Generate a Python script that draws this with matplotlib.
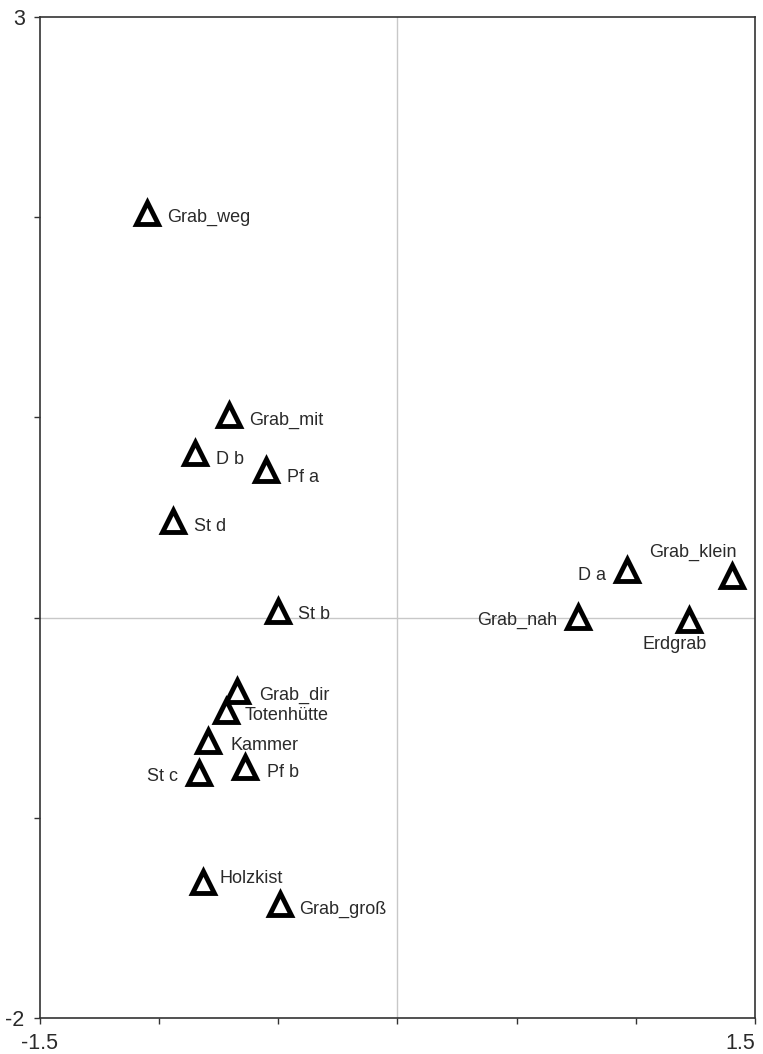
import matplotlib
matplotlib.use("Agg")
from matplotlib import pyplot as plt

# ordination scores
names = ["Grab_weg", "Grab_mit", "D b", "Pf a", "St d", "St b",
         "Grab_dir", "Totenhütte", "Kammer", "St c", "Pf b",
         "Holzkist", "Grab_groß",
         "D a", "Grab_klein", "Grab_nah", "Erdgrab"]
x_vals = [-1.051, -0.705, -0.848, -0.552, -0.940, -0.502,
          -0.673, -0.720, -0.795, -0.833, -0.640,
          -0.816, -0.493,
          0.963, 1.404, 0.758, 1.223]
y_vals = [2.021, 1.010, 0.822, 0.735, 0.483, 0.033,
          -0.367, -0.467, -0.616, -0.776, -0.746,
          -1.321, -1.431,
          0.238, 0.208, 0.003, -0.012]

# label placement (pixels right / down from marker) and alignment
offsets = [(20, 4, "left"), (20, 5, "left"), (21, 6, "left"), (21, 7, "left"),
           (21, 6, "left"), (20, 4, "left"),
           (22, 4, "left"), (19, 4, "left"), (22, 5, "left"), (-21, 4, "right"),
           (22, 6, "left"), (16, -4, "left"), (19, 5, "left"),
           (-21, 6, "right"), (-39, -24, "center"), (-21, 3, "right"), (-14, 24, "center")]

x_ticks = [-1.5, -1.0, -0.5, 0.0, 0.5, 1.0, 1.5]
x_tick_labels = ["-1.5", "", "", "", "", "", "1.5"]
y_ticks = [-2, -1, 0, 1, 2, 3]
y_tick_labels = ["-2", "", "", "", "", "3"]

plt.rcParams["font.family"] = ["Liberation Sans", "DejaVu Sans"]

fig = plt.figure(figsize=(7.63, 10.54), dpi=100)
ax = fig.add_axes([40 / 763, 36 / 1054, 715 / 763, 1001 / 1054])

ax.axhline(0, color="#c8c8c8", lw=1, zorder=1)
ax.axvline(0, color="#c8c8c8", lw=1, zorder=1)

ax.plot(x_vals, y_vals, linestyle="none", marker="^", markersize=16,
        markerfacecolor="white", markeredgecolor="black", markeredgewidth=3.5, zorder=3)

for name, xv, yv, (dx, dy, ha) in zip(names, x_vals, y_vals, offsets):
    ax.annotate(name, (xv, yv), xytext=(dx * 0.72, -dy * 0.72), textcoords="offset points",
                ha=ha, va="center", fontsize=13, color="#2a2a2a", zorder=4)

ax.set_xlim(-1.5, 1.5)
ax.set_ylim(-2, 3)
ax.set_xticks(x_ticks)
ax.set_xticklabels(x_tick_labels)
ax.set_yticks(y_ticks)
ax.set_yticklabels(y_tick_labels)
ax.xaxis.get_majorticklabels()[-1].set_horizontalalignment("right")
ax.tick_params(axis="both", direction="out", length=4.5, width=1, colors="#333333",
               labelsize=15.5, labelcolor="#2a2a2a", pad=6.5)

for spine in ax.spines.values():
    spine.set_color("#333333")
    spine.set_linewidth(1.2)

plt.savefig("out.png", dpi=100)
